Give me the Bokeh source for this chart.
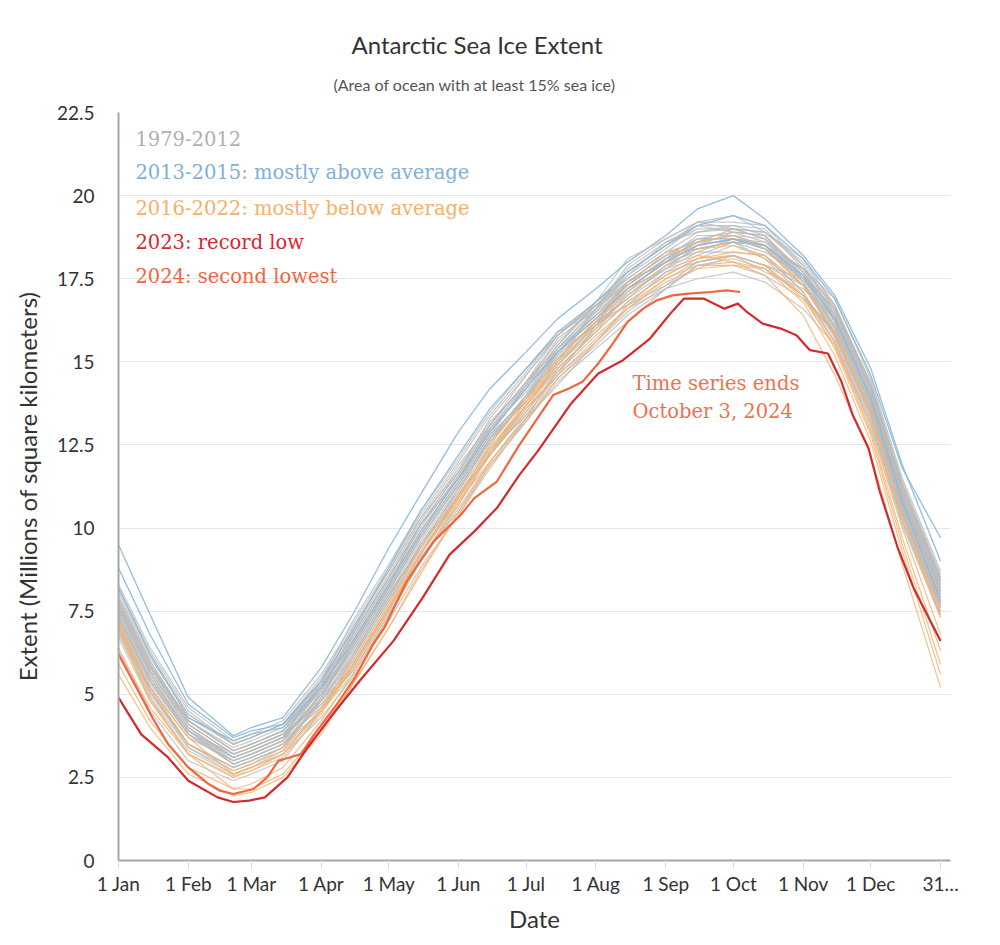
from bokeh.plotting import figure
from bokeh.models import FixedTicker, Label, ColumnDataSource, Title
from bokeh.embed import file_html
from bokeh.resources import INLINE

# ---------------- data ----------------
# sampling days (day-of-year from 1 Jan = 0): 1st / mid of each month, Feb 20 for the minimum
DAYS = [0, 14, 31, 51, 59, 73, 90, 104, 120, 134, 151, 165, 181, 195, 212, 226,
        243, 257, 273, 287, 304, 318, 334, 348, 365]

# 1979-2012 (millions of km^2)
e1979 = [7.8, 5.9, 4.2, 3.3, 3.5, 3.9, 5.2, 6.6, 8.3, 10.1, 11.5, 12.9, 14.2, 15.4, 16.4, 17.2, 18.0, 18.7, 18.7, 18.4, 17.5, 16.3, 13.9, 10.9, 8.1]
e1980 = [7.0, 5.1, 3.5, 2.8, 3.0, 3.4, 4.9, 6.4, 8.1, 9.7, 11.3, 12.7, 13.8, 15.2, 16.6, 17.7, 18.5, 19.0, 19.0, 18.9, 17.9, 16.6, 14.2, 11.2, 8.4]
e1981 = [6.7, 4.8, 3.3, 2.6, 2.8, 3.2, 4.5, 5.9, 7.6, 9.2, 11.0, 12.2, 13.5, 14.7, 15.8, 16.6, 17.2, 17.9, 18.1, 17.8, 17.0, 15.9, 13.5, 10.5, 7.7]
e1982 = [7.7, 5.8, 4.1, 3.2, 3.4, 3.8, 4.7, 5.7, 7.4, 9.0, 10.6, 12.0, 13.3, 14.8, 15.9, 17.1, 17.9, 18.4, 18.6, 18.5, 17.6, 16.5, 14.1, 11.1, 8.3]
e1983 = [7.3, 5.4, 3.9, 3.1, 3.3, 3.7, 5.3, 7.0, 8.7, 10.3, 11.9, 13.1, 14.6, 15.8, 16.7, 17.5, 18.3, 18.6, 19.0, 18.7, 17.4, 15.7, 13.3, 10.3, 7.5]
e1984 = [7.5, 5.6, 3.9, 2.9, 3.1, 3.5, 4.5, 5.6, 7.3, 9.1, 10.5, 11.9, 13.2, 14.4, 15.4, 16.2, 17.2, 17.5, 17.7, 17.4, 16.6, 15.5, 13.1, 10.1, 7.3]
e1985 = [6.8, 4.9, 3.4, 2.7, 2.9, 3.3, 4.9, 6.5, 8.2, 9.8, 11.4, 12.8, 14.3, 15.3, 16.4, 17.4, 18.2, 18.7, 18.7, 18.6, 17.6, 16.2, 13.8, 10.8, 8.0]
e1986 = [8.2, 6.3, 4.5, 3.5, 3.7, 4.1, 5.2, 6.3, 8.0, 9.6, 11.2, 12.6, 13.9, 15.1, 16.2, 16.7, 17.5, 18.0, 18.2, 17.9, 17.5, 16.6, 14.4, 11.4, 8.6]
e1987 = [7.1, 5.2, 3.7, 3.0, 3.2, 3.6, 5.2, 6.8, 8.5, 10.1, 11.5, 13.1, 14.4, 15.6, 16.7, 17.6, 18.4, 19.1, 18.9, 18.8, 17.6, 16.0, 13.6, 10.6, 7.8]
e1988 = [7.6, 5.7, 4.0, 3.1, 3.3, 3.7, 4.8, 6.0, 7.7, 9.3, 10.9, 12.3, 13.6, 14.6, 16.1, 17.4, 18.0, 18.5, 18.7, 18.4, 17.3, 15.8, 13.4, 10.4, 7.6]
e1989 = [6.4, 4.5, 3.0, 2.4, 2.6, 3.0, 4.5, 6.1, 8.0, 9.4, 11.0, 12.4, 13.7, 14.9, 16.0, 17.0, 17.8, 18.1, 18.5, 18.2, 17.1, 15.6, 13.2, 10.2, 7.4]
e1990 = [7.8, 5.9, 4.1, 3.2, 3.4, 3.8, 4.8, 5.8, 7.5, 9.1, 10.7, 12.3, 13.4, 14.6, 15.6, 16.5, 17.3, 17.8, 18.2, 17.7, 17.2, 16.3, 13.9, 10.9, 8.1]
e1991 = [7.3, 5.4, 3.8, 3.0, 3.2, 3.6, 5.0, 6.4, 8.1, 9.7, 11.3, 12.7, 14.0, 15.2, 16.2, 16.9, 17.9, 18.4, 18.6, 18.5, 17.5, 16.4, 14.0, 11.0, 8.2]
e1992 = [7.0, 5.1, 3.4, 2.6, 2.8, 3.2, 4.3, 5.5, 7.2, 8.8, 10.4, 11.8, 13.3, 14.3, 15.6, 16.7, 17.3, 18.0, 18.2, 17.9, 17.0, 15.8, 13.4, 10.4, 7.6]
e1993 = [7.4, 5.5, 3.9, 3.2, 3.4, 3.8, 5.2, 6.7, 8.4, 9.8, 11.6, 13.0, 14.3, 15.5, 16.7, 17.3, 18.1, 18.6, 18.8, 18.5, 17.5, 16.1, 13.7, 10.7, 7.9]
e1994 = [7.9, 6.0, 4.2, 3.3, 3.5, 3.9, 5.1, 6.4, 8.1, 9.7, 11.3, 12.7, 14.0, 15.4, 16.6, 17.8, 18.6, 19.1, 19.1, 19.0, 17.8, 16.3, 13.9, 10.9, 8.1]
e1995 = [7.3, 5.4, 3.8, 2.9, 3.1, 3.5, 4.7, 5.9, 7.6, 9.2, 11.0, 12.2, 13.5, 14.7, 16.0, 17.2, 18.0, 18.3, 18.7, 18.4, 17.4, 16.0, 13.6, 10.6, 7.8]
e1996 = [7.1, 5.2, 3.7, 3.0, 3.2, 3.6, 5.0, 6.5, 8.2, 9.8, 11.4, 12.8, 13.9, 15.3, 16.1, 16.7, 17.7, 18.0, 18.2, 17.9, 17.3, 16.3, 13.9, 10.9, 8.1]
e1997 = [7.6, 5.7, 4.0, 3.1, 3.3, 3.7, 5.0, 6.2, 7.9, 9.5, 11.1, 12.7, 13.8, 15.0, 16.1, 17.0, 17.8, 18.3, 18.3, 18.2, 17.1, 15.6, 13.2, 10.2, 7.4]
e1998 = [6.9, 5.0, 3.5, 2.8, 3.0, 3.4, 5.1, 6.8, 8.5, 10.1, 11.7, 13.1, 14.4, 15.4, 16.6, 17.4, 18.2, 18.7, 18.9, 18.8, 17.5, 16.1, 13.7, 10.7, 7.9]
e1999 = [7.5, 5.6, 3.9, 3.1, 3.3, 3.7, 5.0, 6.3, 8.0, 9.4, 11.2, 12.6, 13.9, 15.1, 16.2, 17.1, 18.1, 18.4, 18.6, 18.3, 17.6, 16.6, 14.2, 11.2, 8.4]
e2000 = [7.8, 5.9, 4.2, 3.4, 3.6, 4.0, 5.4, 6.9, 8.6, 10.2, 11.8, 13.2, 14.3, 15.7, 16.6, 17.3, 18.1, 18.8, 18.8, 18.5, 17.8, 16.7, 14.3, 11.3, 8.5]
e2001 = [7.6, 5.7, 4.0, 3.1, 3.3, 3.7, 4.9, 6.1, 7.8, 9.4, 11.0, 12.4, 13.7, 14.9, 16.1, 16.9, 17.7, 18.2, 18.6, 18.1, 17.3, 16.1, 13.7, 10.7, 7.9]
e2002 = [7.4, 5.5, 3.9, 3.0, 3.2, 3.6, 4.6, 5.7, 7.4, 9.0, 10.8, 12.0, 13.3, 14.5, 15.5, 16.4, 17.2, 17.9, 17.9, 17.6, 16.9, 15.9, 13.5, 10.5, 7.7]
e2003 = [8.1, 6.2, 4.4, 3.5, 3.7, 4.1, 5.3, 6.5, 8.2, 9.8, 11.4, 13.0, 14.1, 15.3, 16.3, 17.2, 17.8, 18.5, 18.7, 18.4, 17.8, 16.9, 14.5, 11.5, 8.7]
e2004 = [7.9, 6.0, 4.2, 3.3, 3.5, 3.9, 5.2, 6.6, 8.3, 10.1, 11.5, 12.9, 14.2, 15.4, 16.4, 17.3, 18.1, 18.6, 18.6, 18.5, 17.4, 15.9, 13.5, 10.5, 7.7]
e2005 = [7.2, 5.3, 3.8, 3.1, 3.3, 3.7, 5.4, 7.2, 8.9, 10.5, 12.1, 13.5, 14.8, 15.8, 16.7, 17.4, 18.0, 18.5, 18.7, 18.4, 17.3, 15.8, 13.4, 10.4, 7.6]
e2006 = [7.0, 5.1, 3.5, 2.8, 3.0, 3.4, 4.8, 6.2, 7.9, 9.5, 11.1, 12.5, 14.0, 15.0, 16.6, 17.9, 18.7, 19.2, 19.2, 19.1, 17.9, 16.4, 14.0, 11.0, 8.2]
e2007 = [7.7, 5.8, 4.3, 3.5, 3.7, 4.1, 5.5, 7.0, 8.7, 10.3, 11.7, 13.3, 14.6, 15.8, 16.8, 17.5, 18.3, 18.9, 19.0, 18.7, 17.7, 16.4, 14.0, 11.0, 8.2]
e2008 = [8.3, 6.4, 4.6, 3.6, 3.8, 4.2, 5.6, 7.1, 8.8, 10.4, 12.0, 13.4, 14.7, 15.9, 16.5, 17.3, 18.1, 18.6, 18.8, 18.7, 17.7, 16.5, 14.1, 11.1, 8.3]
e2009 = [7.6, 5.7, 4.1, 3.2, 3.4, 3.8, 5.1, 6.5, 8.2, 9.8, 11.4, 12.8, 13.9, 15.3, 16.5, 17.6, 18.6, 18.9, 19.1, 18.8, 17.7, 16.2, 13.8, 10.8, 8.0]
e2010 = [7.7, 5.8, 4.2, 3.3, 3.5, 3.9, 5.3, 6.8, 8.5, 10.1, 11.7, 13.1, 14.4, 15.8, 16.8, 17.7, 18.5, 19.2, 19.0, 18.9, 18.0, 16.7, 14.3, 11.3, 8.5]
e2011 = [7.3, 5.4, 3.8, 2.9, 3.1, 3.5, 4.8, 6.1, 7.8, 9.4, 11.0, 12.2, 13.7, 14.9, 16.2, 17.4, 18.2, 18.5, 18.9, 18.6, 17.8, 16.6, 14.2, 11.2, 8.4]
e2012 = [8.0, 6.1, 4.4, 3.5, 3.7, 4.1, 5.4, 6.7, 8.4, 10.0, 11.6, 13.0, 14.3, 15.5, 16.8, 18.1, 18.7, 19.2, 19.4, 18.9, 18.1, 16.7, 14.3, 11.3, 8.5]

# 2013-2015
e2013 = [8.8, 6.8, 4.7, 3.7, 3.9, 4.1, 5.4, 6.9, 8.8, 10.5, 12.2, 13.6, 14.8, 15.9, 16.8, 17.7, 18.5, 19.1, 19.4, 19.1, 18.1, 16.9, 14.6, 11.8, 9.7]
e2014 = [9.5, 7.4, 4.9, 3.75, 4.0, 4.3, 5.8, 7.4, 9.4, 11.0, 12.9, 14.2, 15.3, 16.3, 17.2, 18.0, 18.8, 19.6, 20.0, 19.3, 18.2, 17.0, 14.8, 11.9, 9.0]
e2015 = [8.2, 6.2, 4.3, 3.6, 3.8, 4.0, 5.2, 6.6, 8.3, 9.9, 11.5, 12.9, 14.2, 15.3, 16.3, 17.2, 18.0, 18.5, 18.7, 18.5, 17.6, 16.3, 13.9, 10.8, 7.8]

# 2016-2022
e2016 = [7.1, 5.2, 3.7, 2.6, 2.8, 3.3, 4.5, 5.8, 7.6, 9.2, 10.8, 12.3, 13.7, 15.0, 16.1, 17.0, 17.9, 18.2, 18.0, 17.6, 16.4, 14.6, 12.2, 8.9, 5.2]
e2017 = [5.9, 4.2, 2.8, 2.15, 2.15, 2.6, 3.9, 5.3, 7.0, 8.6, 10.5, 12.0, 13.4, 14.6, 15.7, 16.6, 17.4, 17.8, 17.9, 17.8, 17.0, 15.6, 13.0, 10.0, 6.8]
e2018 = [6.9, 4.8, 3.2, 2.15, 2.3, 2.8, 4.2, 5.6, 7.3, 9.0, 10.7, 12.2, 13.6, 14.8, 15.9, 16.8, 17.6, 18.1, 18.2, 17.9, 16.9, 15.5, 12.9, 9.7, 6.3]
e2019 = [6.3, 4.6, 3.2, 2.5, 2.7, 3.1, 4.4, 5.8, 7.5, 9.2, 10.9, 12.3, 13.7, 14.8, 15.9, 16.8, 17.6, 18.1, 18.3, 18.2, 17.3, 15.9, 13.4, 10.4, 7.3]
e2020 = [7.2, 5.2, 3.5, 2.7, 2.9, 3.4, 4.5, 5.9, 7.6, 9.2, 10.9, 12.5, 13.9, 15.1, 16.2, 17.2, 18.0, 18.6, 18.8, 18.4, 17.3, 15.9, 13.5, 10.4, 7.5]
e2021 = [7.0, 4.9, 3.2, 2.55, 2.7, 3.2, 4.6, 6.0, 7.7, 9.4, 11.0, 12.4, 13.8, 15.0, 16.3, 17.3, 18.3, 18.4, 18.5, 18.1, 17.0, 15.4, 12.8, 9.5, 5.9]
e2022 = [5.6, 4.0, 2.6, 1.95, 2.05, 2.5, 3.8, 5.3, 7.0, 8.7, 10.4, 11.9, 13.2, 14.5, 15.6, 16.6, 17.5, 17.9, 18.0, 17.8, 16.8, 15.2, 12.6, 9.3, 5.6]

# 2023 (record low)
days_2023 = [0, 10, 22, 31, 44, 51, 58, 65, 70, 75, 84, 94, 107, 122, 135, 147, 158, 168,
             178, 186, 201, 213, 224, 236, 245, 251, 260, 269, 275, 279, 286, 294, 301,
             307, 315, 321, 326, 333, 338, 346, 353, 365]
ext_2023 = [4.9, 3.8, 3.1, 2.4, 1.9, 1.76, 1.8, 1.9, 2.2, 2.5, 3.4, 4.3, 5.4, 6.6, 7.9, 9.2, 9.9, 10.6,
            11.6, 12.3, 13.75, 14.65, 15.05, 15.7, 16.45, 16.9, 16.9, 16.6, 16.75, 16.5, 16.15, 16.0, 15.8,
            15.35, 15.25, 14.4, 13.4, 12.4, 11.1, 9.4, 8.2, 6.6]

# 2024 (second lowest, ends 3 Oct)
days_2024 = [0, 8, 15, 22, 31, 40, 45, 51, 60, 66, 71, 76, 81, 87, 97, 105, 113, 118, 128, 140,
             152, 158, 168, 178, 186, 193, 200, 206, 213, 220, 226, 233, 239, 246, 253, 263, 270, 276]
ext_2024 = [6.2, 5.2, 4.3, 3.5, 2.8, 2.3, 2.1, 2.0, 2.15, 2.5, 3.0, 3.1, 3.2, 3.8, 4.7, 5.5, 6.5, 7.0, 8.4, 9.6,
            10.4, 10.9, 11.4, 12.5, 13.3, 14.0, 14.2, 14.4, 14.95, 15.6, 16.2, 16.6, 16.85, 17.0, 17.05, 17.1, 17.15, 17.1]

GRAY_SERIES = [e1979, e1980, e1981, e1982, e1983, e1984, e1985, e1986, e1987, e1988, e1989,
               e1990, e1991, e1992, e1993, e1994, e1995, e1996, e1997, e1998, e1999, e2000,
               e2001, e2002, e2003, e2004, e2005, e2006, e2007, e2008, e2009, e2010, e2011, e2012]
BLUE_SERIES = [e2013, e2014, e2015]
ORANGE_SERIES = [e2016, e2017, e2018, e2019, e2020, e2021, e2022]

MONTH_TICKS = [0, 31, 59, 90, 120, 151, 181, 212, 243, 273, 304, 334, 365]
MONTH_LABELS = ["1 Jan", "1 Feb", "1 Mar", "1 Apr", "1 May", "1 Jun", "1 Jul", "1 Aug",
                "1 Sep", "1 Oct", "1 Nov", "1 Dec", "31\u2026"]
Y_TICKS = [0, 2.5, 5, 7.5, 10, 12.5, 15, 17.5, 20, 22.5]
Y_LABELS = ["0", "2.5", "5", "7.5", "10", "12.5", "15", "17.5", "20", "22.5"]

LEGEND_TEXTS = ["1979-2012", "2013-2015: mostly above average", "2016-2022: mostly below average",
                "2023: record low", "2024: second lowest"]

# ---------------- styles ----------------
C_GRAY = "#bababa"
C_BLUE = "#8dbadb"
C_ORANGE = "#f6b472"
C_2023 = "#d42a2e"
C_2024 = "#f06641"
SANS = "Lato"
SERIF = "DejaVu Serif"

p = figure(frame_width=832, frame_height=748, x_range=(0, 369.4), y_range=(0, 22.5),
           output_backend="svg", toolbar_location=None,
           min_border_left=118, min_border_right=42, min_border_top=112, min_border_bottom=77)
p.outline_line_color = None
p.background_fill_color = "white"
p.border_fill_color = "white"

p.xgrid.visible = False
p.ygrid.grid_line_color = "#e6e6e6"
p.ygrid.grid_line_width = 1

p.yaxis.ticker = FixedTicker(ticks=Y_TICKS)
p.yaxis.major_label_overrides = {t: s for t, s in zip(Y_TICKS, Y_LABELS)}
p.yaxis.axis_line_color = "#a6a6a6"
p.yaxis.axis_line_width = 2
p.yaxis.major_tick_line_color = None
p.yaxis.minor_tick_line_color = None
p.yaxis.major_label_text_font = SANS
p.yaxis.major_label_text_font_size = "19px"
p.yaxis.major_label_text_color = "#333333"
p.yaxis.major_label_standoff = 18
p.yaxis.axis_label = "Extent (Millions of square kilometers)"
p.yaxis.axis_label_text_font = SANS
p.yaxis.axis_label_text_font_size = "24px"
p.yaxis.axis_label_text_font_style = "normal"
p.yaxis.axis_label_text_color = "#333333"
p.yaxis.axis_label_standoff = 12

p.xaxis.ticker = FixedTicker(ticks=MONTH_TICKS)
p.xaxis.major_label_overrides = {t: s for t, s in zip(MONTH_TICKS, MONTH_LABELS)}
p.xaxis.axis_line_color = "#a6a6a6"
p.xaxis.axis_line_width = 2
p.xaxis.major_tick_line_color = "#d3dae8"
p.xaxis.major_tick_out = 8
p.xaxis.major_tick_in = 0
p.xaxis.minor_tick_line_color = None
p.xaxis.major_label_text_font = SANS
p.xaxis.major_label_text_font_size = "19px"
p.xaxis.major_label_text_color = "#333333"
p.xaxis.major_label_standoff = 3
p.xaxis.axis_label = "Date"
p.xaxis.axis_label_text_font = SANS
p.xaxis.axis_label_text_font_size = "24px"
p.xaxis.axis_label_text_font_style = "normal"
p.xaxis.axis_label_text_color = "#333333"
p.xaxis.axis_label_standoff = 6

def add_group(series, color, alpha, width):
    src = ColumnDataSource(dict(xs=[DAYS] * len(series), ys=series))
    p.multi_line("xs", "ys", source=src, line_color=color, line_alpha=alpha, line_width=width)

add_group(GRAY_SERIES, C_GRAY, 0.8, 1.2)
add_group(ORANGE_SERIES, C_ORANGE, 0.85, 1.2)
add_group(BLUE_SERIES, C_BLUE, 0.95, 1.3)

p.line(days_2024, ext_2024, line_color=C_2024, line_width=2.2)
p.line(days_2023, ext_2023, line_color=C_2023, line_width=2.2)

# legend texts
legend_colors = ["#b0b0b0", "#7fb0d6", "#f5b06c", C_2023, C_2024]
legend_y = [21.72, 20.70, 19.61, 18.59, 17.57]
for txt, col, yy in zip(LEGEND_TEXTS, legend_colors, legend_y):
    p.add_layout(Label(x=7.5, y=yy, text=txt, text_color=col, text_font=SERIF,
                       text_font_size="19.5px", text_baseline="middle", text_align="left"))

# annotation
p.add_layout(Label(x=228.2, y=14.35, text="Time series ends", text_color="#f0714c",
                   text_font=SERIF, text_font_size="19.5px", text_baseline="middle"))
p.add_layout(Label(x=228.2, y=13.51, text="October 3, 2024", text_color="#f0714c",
                   text_font=SERIF, text_font_size="19.5px", text_baseline="middle"))

# title / subtitle (subtitle first: nearest to the plot)
p.add_layout(Title(text="(Area of ocean with at least 15% sea ice)", text_font=SANS,
                   text_font_size="16px", text_font_style="normal", text_color="#555555",
                   align="left", offset=215, standoff=38), "above")
p.add_layout(Title(text="Antarctic Sea Ice Extent", text_font=SANS, text_font_size="24px",
                   text_font_style="normal", text_color="#333333",
                   align="left", offset=233, standoff=-10), "above")

open("out.html", "w").write(file_html(p, INLINE))
